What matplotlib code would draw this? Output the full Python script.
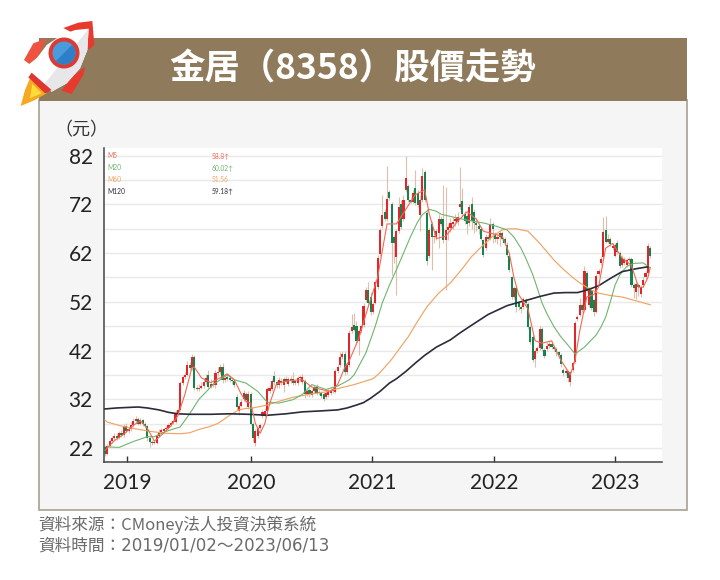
import matplotlib
matplotlib.use('Agg')
import matplotlib.pyplot as plt
from matplotlib.patches import Rectangle, Polygon, Circle, Wedge

plt.rcParams['font.family'] = ['Noto Sans CJK TC', 'DejaVu Sans']

# weekly candles
opens = [22.2, 20.8, 22.4, 23.4, 24.0, 24.4, 24.0, 25.0, 24.6, 26.4,
         25.4, 25.8, 26.6, 27.6, 28.0, 27.0, 27.8, 27.0, 26.4, 24.0,
         23.2, 23.0, 23.0, 24.5, 25.3, 25.5, 25.8, 26.0, 26.8, 27.2,
         27.4, 29.2, 29.8, 35.4, 36.6, 37.0, 39.0, 38.4, 40.7, 34.3,
         34.0, 34.4, 34.8, 35.6, 37.0, 34.6, 35.2, 34.9, 37.3, 37.6,
         38.6, 36.0, 36.4, 36.2, 36.0, 35.7, 32.5, 29.5, 30.7, 32.0,
         33.0, 30.5, 33.0, 27.0, 23.0, 24.5, 26.0, 28.5, 28.6, 29.5,
         33.6, 34.0, 36.8, 35.6, 35.0, 35.8, 35.0, 36.2, 35.2, 35.8,
         36.1, 35.4, 35.3, 36.3, 35.6, 35.7, 33.0, 33.9, 32.9, 33.6,
         34.6, 33.2, 33.2, 33.0, 32.4, 32.9, 33.2, 33.9, 33.5, 37.8,
         39.0, 40.7, 41.3, 37.6, 39.0, 46.0, 47.3, 47.0, 44.0, 46.0,
         47.2, 52.4, 54.5, 53.0, 50.0, 51.8, 55.0, 61.8, 67.6, 70.5,
         69.0, 74.5, 72.0, 65.3, 61.3, 66.5, 72.0, 69.0, 75.0, 75.8,
         73.0, 72.6, 75.4, 74.3, 69.9, 73.0, 78.6, 70.2, 61.4, 68.0,
         65.3, 65.4, 66.2, 69.0, 69.0, 64.6, 66.8, 67.2, 68.0, 68.6,
         68.5, 71.5, 72.8, 70.0, 69.6, 68.2, 72.0, 70.4, 68.2, 67.6,
         66.9, 64.7, 63.0, 65.4, 65.0, 68.0, 66.0, 65.0, 65.4, 66.2,
         65.0, 63.7, 61.5, 57.0, 53.0, 54.9, 51.7, 51.0, 51.0, 52.4,
         51.6, 46.9, 44.8, 40.2, 42.0, 42.6, 46.5, 42.2, 42.4, 43.0,
         43.4, 42.8, 42.4, 41.7, 41.0, 38.0, 37.4, 37.7, 35.6, 38.0,
         39.7, 48.4, 49.3, 51.4, 50.3, 57.9, 51.4, 54.4, 52.3, 50.0,
         57.8, 59.9, 61.3, 66.8, 64.3, 64.9, 63.0, 61.5, 64.1, 62.0,
         59.6, 60.0, 59.6, 60.6, 60.8, 55.4, 54.0, 55.4, 53.7, 55.4,
         57.0, 58.0, 63.0]
closes = [20.8, 22.4, 23.4, 24.0, 24.4, 24.0, 25.0, 24.6, 26.4, 25.4,
          25.8, 26.6, 27.6, 28.0, 27.0, 27.8, 27.0, 26.4, 24.0, 23.2,
          23.0, 23.2, 24.5, 25.3, 25.5, 25.8, 26.0, 26.8, 27.0, 27.4,
          29.2, 29.8, 35.4, 36.6, 37.0, 39.0, 38.4, 40.7, 34.3, 34.0,
          34.4, 34.8, 35.6, 36.4, 34.6, 35.2, 34.9, 37.3, 37.6, 38.6,
          36.0, 36.4, 36.2, 36.0, 35.7, 35.0, 30.5, 30.7, 31.4, 33.3,
          31.8, 33.0, 27.0, 24.0, 25.5, 26.0, 26.6, 29.3, 29.6, 34.0,
          34.4, 35.7, 35.5, 34.9, 36.0, 35.4, 36.2, 35.8, 36.1, 36.2,
          35.4, 35.5, 36.3, 36.6, 36.5, 33.0, 33.6, 33.0, 33.6, 34.6,
          33.2, 33.4, 32.7, 32.1, 33.2, 33.6, 33.9, 33.6, 37.8, 38.6,
          40.7, 41.3, 37.6, 39.0, 45.7, 46.8, 46.3, 43.9, 46.0, 47.0,
          51.2, 54.4, 51.8, 50.0, 51.6, 56.0, 61.0, 66.8, 69.8, 69.0,
          73.2, 73.3, 64.0, 64.0, 66.6, 71.5, 67.3, 73.0, 77.4, 73.0,
          72.6, 74.3, 72.3, 71.9, 73.0, 77.8, 73.0, 60.3, 66.8, 65.3,
          65.6, 66.6, 69.0, 68.0, 64.6, 66.8, 67.4, 68.2, 68.4, 69.0,
          69.5, 72.0, 70.0, 68.6, 67.9, 71.4, 68.6, 68.2, 67.8, 67.0,
          65.0, 61.7, 65.4, 65.0, 68.0, 67.0, 65.0, 65.4, 66.2, 65.0,
          64.0, 61.6, 58.6, 53.0, 54.9, 51.0, 51.0, 50.5, 52.6, 51.8,
          46.9, 43.8, 40.0, 42.0, 42.5, 46.5, 42.4, 40.9, 43.0, 43.4,
          42.8, 42.4, 41.7, 41.0, 39.3, 37.4, 37.8, 36.3, 37.5, 39.5,
          47.6, 48.8, 51.4, 50.3, 58.4, 54.4, 54.4, 50.7, 50.0, 57.4,
          58.3, 60.8, 66.4, 64.3, 65.0, 63.8, 63.5, 63.6, 62.2, 59.4,
          61.1, 60.9, 60.6, 60.8, 55.4, 54.9, 55.6, 55.0, 55.0, 56.5,
          58.0, 63.5, 61.5]
highs = [22.6, 22.8, 23.9, 24.5, 25.1, 25.0, 25.4, 25.7, 26.9, 27.1,
         26.3, 27.3, 28.1, 28.5, 28.4, 28.2, 28.0, 27.3, 26.8, 24.4,
         23.6, 23.6, 24.8, 25.8, 26.0, 26.1, 26.5, 27.2, 27.5, 27.9,
         29.8, 30.2, 35.8, 37.0, 37.6, 39.8, 39.6, 41.2, 41.0, 35.0,
         35.2, 35.6, 36.4, 37.2, 38.0, 36.2, 36.0, 38.0, 38.6, 39.2,
         39.4, 37.0, 37.4, 36.8, 36.4, 36.0, 33.0, 31.2, 32.0, 33.8,
         33.4, 33.6, 33.4, 27.4, 25.9, 26.5, 27.2, 29.8, 30.2, 34.5,
         35.0, 36.2, 37.8, 36.0, 36.6, 36.4, 36.6, 36.8, 36.6, 36.8,
         37.6, 36.0, 36.8, 37.0, 37.2, 36.2, 34.0, 34.4, 34.0, 35.0,
         35.2, 33.9, 33.6, 33.4, 33.6, 34.0, 34.4, 34.4, 38.2, 39.2,
         41.6, 42.0, 42.0, 39.6, 46.2, 49.5, 49.7, 48.0, 46.5, 47.5,
         51.8, 55.0, 56.0, 54.0, 52.0, 56.5, 61.6, 67.2, 74.0, 71.0,
         80.0, 75.0, 72.5, 65.8, 67.0, 73.5, 73.0, 74.0, 82.0, 76.2,
         73.6, 75.0, 79.0, 75.0, 74.0, 79.4, 79.0, 71.0, 67.2, 68.6,
         66.2, 67.0, 70.0, 69.6, 76.0, 75.5, 68.0, 69.2, 69.4, 70.0,
         70.4, 79.6, 75.4, 70.6, 70.2, 72.0, 73.6, 71.0, 69.2, 68.0,
         67.4, 65.0, 66.0, 65.8, 69.2, 68.4, 66.4, 65.8, 66.6, 66.6,
         65.4, 64.2, 61.9, 57.4, 55.3, 55.2, 52.0, 51.3, 53.0, 52.8,
         52.0, 47.2, 45.2, 42.3, 43.0, 47.0, 46.8, 42.6, 43.8, 44.0,
         44.0, 43.2, 42.8, 42.0, 41.4, 38.4, 38.2, 38.0, 37.8, 39.8,
         48.0, 49.2, 52.8, 51.8, 59.4, 58.4, 55.0, 54.8, 52.6, 57.8,
         58.8, 61.4, 69.4, 69.6, 66.0, 65.4, 64.0, 64.0, 64.6, 62.4,
         61.6, 61.3, 61.0, 61.2, 61.2, 55.8, 56.0, 55.8, 55.4, 57.0,
         58.4, 64.0, 63.4]
lows = [20.4, 20.6, 22.1, 23.1, 23.6, 23.7, 23.8, 24.3, 24.3, 25.1,
        25.0, 25.5, 26.3, 27.2, 26.7, 26.8, 26.5, 26.0, 23.4, 22.2,
        22.6, 22.8, 22.8, 24.3, 25.0, 25.2, 25.5, 25.8, 26.5, 26.9,
        27.2, 28.8, 29.6, 35.0, 36.2, 36.7, 38.0, 38.0, 33.8, 33.6,
        33.7, 34.0, 34.4, 35.2, 34.2, 34.2, 34.5, 34.4, 36.8, 37.2,
        35.4, 35.6, 35.8, 35.6, 35.2, 34.6, 29.8, 28.8, 30.4, 31.6,
        31.4, 30.0, 26.6, 23.2, 22.4, 24.1, 25.6, 28.1, 28.3, 29.0,
        33.2, 33.6, 35.0, 34.4, 34.4, 35.0, 33.4, 35.4, 34.8, 35.4,
        35.0, 35.0, 34.9, 35.8, 35.2, 32.2, 32.6, 32.5, 32.5, 33.2,
        32.8, 32.8, 32.3, 31.6, 32.0, 32.5, 32.8, 33.2, 33.2, 37.4,
        38.6, 40.3, 37.0, 37.2, 38.6, 45.6, 46.0, 43.4, 41.0, 45.6,
        46.8, 52.0, 51.3, 49.2, 49.6, 51.5, 54.7, 61.4, 67.2, 68.6,
        68.6, 73.0, 57.5, 60.0, 53.5, 66.2, 67.0, 68.6, 74.6, 72.6,
        72.2, 72.2, 71.9, 71.4, 66.5, 72.6, 72.6, 59.6, 61.0, 58.5,
        64.0, 64.6, 63.0, 67.6, 64.0, 54.5, 64.6, 66.4, 67.0, 67.6,
        67.8, 71.0, 69.4, 68.0, 66.0, 67.6, 67.0, 66.2, 66.6, 66.0,
        64.6, 61.2, 62.6, 64.4, 64.6, 64.0, 64.2, 63.8, 63.4, 64.6,
        63.6, 61.2, 58.2, 52.6, 52.6, 50.0, 50.4, 49.8, 50.6, 51.4,
        46.5, 43.4, 39.6, 38.6, 41.4, 42.2, 42.0, 40.4, 42.0, 42.6,
        42.4, 42.0, 40.8, 40.4, 38.6, 36.8, 37.0, 35.6, 34.8, 37.6,
        39.4, 48.0, 49.0, 50.0, 50.0, 54.0, 51.0, 50.3, 49.0, 49.7,
        57.4, 59.6, 61.0, 64.0, 64.0, 63.4, 62.6, 61.2, 61.8, 59.0,
        59.2, 59.6, 59.2, 60.2, 55.0, 52.8, 52.6, 53.2, 53.0, 55.0,
        56.6, 57.6, 61.0]

ma5_wk = [0, 4, 8, 12, 15, 18, 21, 24, 28, 31, 34, 37, 38, 41, 45, 49, 52, 55,
          58, 60, 62, 64, 66, 68, 70, 73, 78, 84, 88, 92, 96, 99, 102, 104,
          108, 112, 116, 120, 124, 128, 132, 136, 138, 141, 145, 150, 154,
          158, 161, 165, 169, 172, 174, 176, 180, 183, 186, 190, 194, 198,
          200, 202, 205, 208, 210, 213, 216, 220, 224, 227, 229, 231, 232]
ma5 = [21.5, 23.5, 24.8, 26.6, 27.6, 26.0, 23.4, 24.6, 26.5, 28.6, 33.0, 38.5,
       38.6, 36.4, 35.4, 36.4, 37.2, 36.0, 33.0, 31.5, 31.2, 27.0, 25.0, 27.0,
       31.0, 35.2, 35.8, 36.0, 34.5, 34.0, 33.6, 35.0, 38.5, 40.0, 44.5, 51.0,
       57.0, 68.0, 68.0, 71.0, 74.0, 75.0, 70.0, 65.0, 65.5, 68.5, 70.5, 69.0,
       66.5, 66.0, 65.5, 62.0, 57.0, 53.5, 50.5, 44.0, 43.5, 44.0, 40.0, 37.0,
       40.0, 46.0, 53.0, 53.5, 55.0, 63.0, 64.0, 61.0, 59.5, 55.0, 55.0, 57.0,
       59.0]
ma20_wk = [1, 6, 12, 18, 21, 26, 32, 36, 40, 46, 52, 55, 60, 65, 69, 74, 80, 84,
           88, 94, 99, 104, 106, 111, 115, 118, 121, 124, 127, 130, 133, 135,
           138, 141, 143, 150, 155, 161, 166, 171, 174, 177, 179, 182, 184, 186,
           188, 191, 194, 197, 200, 204, 209, 211, 213, 215, 217, 219, 222, 225,
           229, 232]
ma20 = [22.2, 22.1, 23.3, 24.3, 24.3, 25.4, 26.3, 29.0, 32.0, 35.0, 37.0, 36.0,
        35.3, 33.6, 31.4, 31.2, 31.9, 33.0, 35.0, 34.0, 34.7, 36.0, 37.0, 41.5,
        47.0, 51.8, 55.4, 58.6, 62.0, 65.4, 68.4, 69.9, 71.0, 70.6, 70.0, 69.2,
        68.7, 68.2, 67.6, 66.8, 65.3, 63.0, 61.0, 57.6, 54.7, 51.7, 49.6, 46.9,
        44.8, 43.1, 41.3, 42.7, 45.2, 46.8, 48.8, 52.0, 55.4, 57.5, 59.3, 59.9,
        60.0, 59.0]
ma60_wk = [0, 1, 6, 12, 19, 26, 32, 36, 40, 44, 48, 51, 53, 57, 60, 63, 66, 69,
           75, 80, 87, 94, 100, 106, 110, 114, 116, 118, 122, 125, 129, 133, 137,
           142, 147, 151, 156, 161, 165, 169, 172, 175, 180, 185, 191, 195, 199,
           202, 205, 207, 210, 215, 220, 226, 232]
ma60 = [27.7, 27.3, 26.6, 26.0, 25.4, 25.0, 24.9, 25.1, 25.8, 26.3, 27.0, 28.0,
        28.7, 29.8, 30.1, 30.2, 30.5, 30.8, 31.7, 32.4, 33.0, 33.5, 34.3, 35.0,
        35.6, 36.2, 37.0, 38.0, 40.2, 42.2, 44.8, 48.0, 51.0, 53.8, 55.9, 58.2,
        61.3, 63.7, 65.5, 66.8, 67.0, 67.0, 66.5, 64.0, 60.6, 58.7, 57.0, 55.9,
        55.0, 54.4, 53.8, 53.3, 53.0, 52.2, 51.4]
ma120_wk = [0, 5, 14, 18, 23, 27, 31, 36, 45, 53, 61, 69, 77, 84, 92, 99, 103,
            107, 110, 113, 117, 121, 124, 128, 132, 136, 141, 147, 151, 156, 163,
            171, 176, 180, 185, 191, 196, 201, 205, 210, 215, 220, 226, 231]
ma120 = [30.0, 30.2, 30.4, 30.2, 29.8, 29.3, 29.0, 28.9, 28.9, 29.0, 28.9, 28.7,
         29.0, 29.4, 29.6, 29.8, 30.2, 30.8, 31.3, 32.2, 33.6, 35.3, 36.2, 37.7,
         39.4, 41.0, 42.7, 44.2, 45.6, 47.2, 49.4, 51.2, 51.9, 52.4, 53.1, 53.8,
         53.9, 53.9, 54.4, 55.3, 56.8, 58.2, 58.8, 59.2]

y_ticks = [22, 32, 42, 52, 62, 72, 82]
grid_vals = [27, 37, 47, 57, 67, 77]
year_labels = ['2019', '2020', '2021', '2022', '2023']
year_pos = [9.4, 62.1, 113.6, 165.5, 217.0]
legend_names = ['M5', 'M20', 'M60', 'M120']
legend_vals = ['58.8↑', '60.02↑', '51.56', '59.18↑']

RED = '#E0262B'
GREEN = '#14834F'
MA_COLORS = ['#EE6A55', '#6FB56F', '#F0A465', '#2B2B3A']
BROWN = '#8F7B5C'

fig = plt.figure(figsize=(7.2, 5.8), dpi=100, facecolor='white')

# background in pixel coordinates, header and rocket
bg = fig.add_axes([0, 0, 1, 1])
bg.set_xlim(0, 720)
bg.set_ylim(580, 0)
bg.axis('off')
bg.add_patch(Rectangle((39, 100), 648, 410, fc='#F5F5F6', ec='#A89F90', lw=1.2))
bg.add_patch(Rectangle((39, 38), 648, 63, fc=BROWN, ec='none'))
bg.text(353, 69, '金居（8358）股價走勢', color='white', fontsize=25.5, fontweight='bold',
        ha='center', va='center')
bg.text(81, 130, '（元）', color='#333333', fontsize=13, ha='center', va='center')
bg.text(38, 525, '資料來源：CMoney法人投資決策系統', color='#6A6A6A', fontsize=12, va='center')
bg.text(38, 545, '資料時間：2019/01/02～2023/06/13', color='#6A6A6A', fontsize=12, va='center',
        family=['DejaVu Sans', 'Noto Sans CJK TC'])


def zoomed(points):
    return [(x / 3, y / 3) for x, y in points]


# rocket outline taken from the 3x crop
bg.add_patch(Polygon(zoomed([(190, 84), (235, 68), (277, 63), (283, 135), (266, 150), (240, 110)]),
                     fc='#E8392F', ec='none', zorder=3))
bg.add_patch(Polygon(zoomed([(72, 180), (100, 130), (140, 115), (115, 170), (88, 192)]),
                     fc='#EE5340', ec='none', zorder=3))
bg.add_patch(Polygon(zoomed([(185, 272), (215, 282), (250, 225), (256, 200), (215, 230)]),
                     fc='#E8392F', ec='none', zorder=3))
bg.add_patch(Polygon(zoomed([(62, 318), (75, 270), (90, 235), (140, 280), (105, 300)]),
                     fc='#F6A821', ec='none', zorder=3))
bg.add_patch(Polygon(zoomed([(90, 295), (97, 252), (125, 280)]), fc='#FFDC3C', ec='none', zorder=3))
bg.add_patch(Polygon(zoomed([(266, 86), (225, 90), (185, 105), (140, 135), (110, 175), (90, 220),
                             (155, 275), (200, 250), (240, 205), (262, 150)]),
                     fc='white', ec='none', zorder=4))
bg.add_patch(Polygon(zoomed([(266, 86), (125, 262), (155, 275), (200, 250), (240, 205), (262, 150)]),
                     fc='#E7E7EA', ec='none', zorder=4))
bg.add_patch(Polygon(zoomed([(85, 232), (135, 280), (155, 270), (95, 218)]), fc='#E0362F', ec='none', zorder=5))
bg.add_patch(Circle((64, 53), 15.5, fc='#DD3A34', ec='none', zorder=5))
bg.add_patch(Circle((64, 53), 11.5, fc='#4A9BDC', ec='none', zorder=6))
bg.add_patch(Wedge((64, 53), 11.5, -45, 135, fc='#2F7FC8', ec='none', zorder=7))

# price chart
ax = fig.add_axes([104 / 720, 1 - 462 / 580, 558 / 720, 314 / 580], facecolor='white')
weeks = list(range(len(closes)))
colors = [RED if c >= o else GREEN for o, c in zip(opens, closes)]
bottoms = [min(o, c) for o, c in zip(opens, closes)]
heights = [max(abs(c - o), 0.3) for o, c in zip(opens, closes)]

ax.vlines(weeks, lows, highs, color='#DDBFAE', lw=0.8, zorder=2)
ax.bar(weeks, heights, bottom=bottoms, width=0.9, color=colors, lw=0, zorder=3)
ax.plot(ma60_wk, ma60, color=MA_COLORS[2], lw=0.85, zorder=4)
ax.plot(ma20_wk, ma20, color=MA_COLORS[1], lw=0.8, zorder=4)
ax.plot(ma120_wk, ma120, color=MA_COLORS[3], lw=1.2, zorder=5)
ax.plot(ma5_wk, ma5, color=MA_COLORS[0], lw=0.8, zorder=5)

ax.set_xlim(-0.43, 237)
ax.set_ylim(19.1, 83.6)
ax.set_yticks(y_ticks)
ax.set_xticks(year_pos)
ax.set_xticklabels(year_labels)
for v in y_ticks + grid_vals:
    ax.axhline(v, color='#E9E9EA', lw=1.0, zorder=1)
ax.tick_params(axis='y', length=0, pad=8, labelsize=15, labelcolor='#222222')
ax.tick_params(axis='x', direction='in', length=4, width=1, color='#333333', pad=8,
               labelsize=15, labelcolor='#222222')
for lab in ax.get_xticklabels() + ax.get_yticklabels():
    lab.set_family(['Lato', 'DejaVu Sans'])
for side in ['top', 'right']:
    ax.spines[side].set_visible(False)
for side in ['left', 'bottom']:
    ax.spines[side].set_color('#444444')
    ax.spines[side].set_linewidth(1.1)

# legend labels sit above the chart axes
for row, (name, val, col) in enumerate(zip(legend_names, legend_vals, MA_COLORS)):
    py = 156 + row * 11.7
    fig.text(107 / 720, 1 - py / 580, name, color=col, fontsize=4.8, va='center', zorder=10,
             family=['Lato', 'DejaVu Sans'])
    fig.text(212 / 720, 1 - py / 580, val, color=col, fontsize=4.8, va='center', zorder=10,
             family=['Lato', 'DejaVu Sans'])

fig.savefig('out.png', dpi=100)
